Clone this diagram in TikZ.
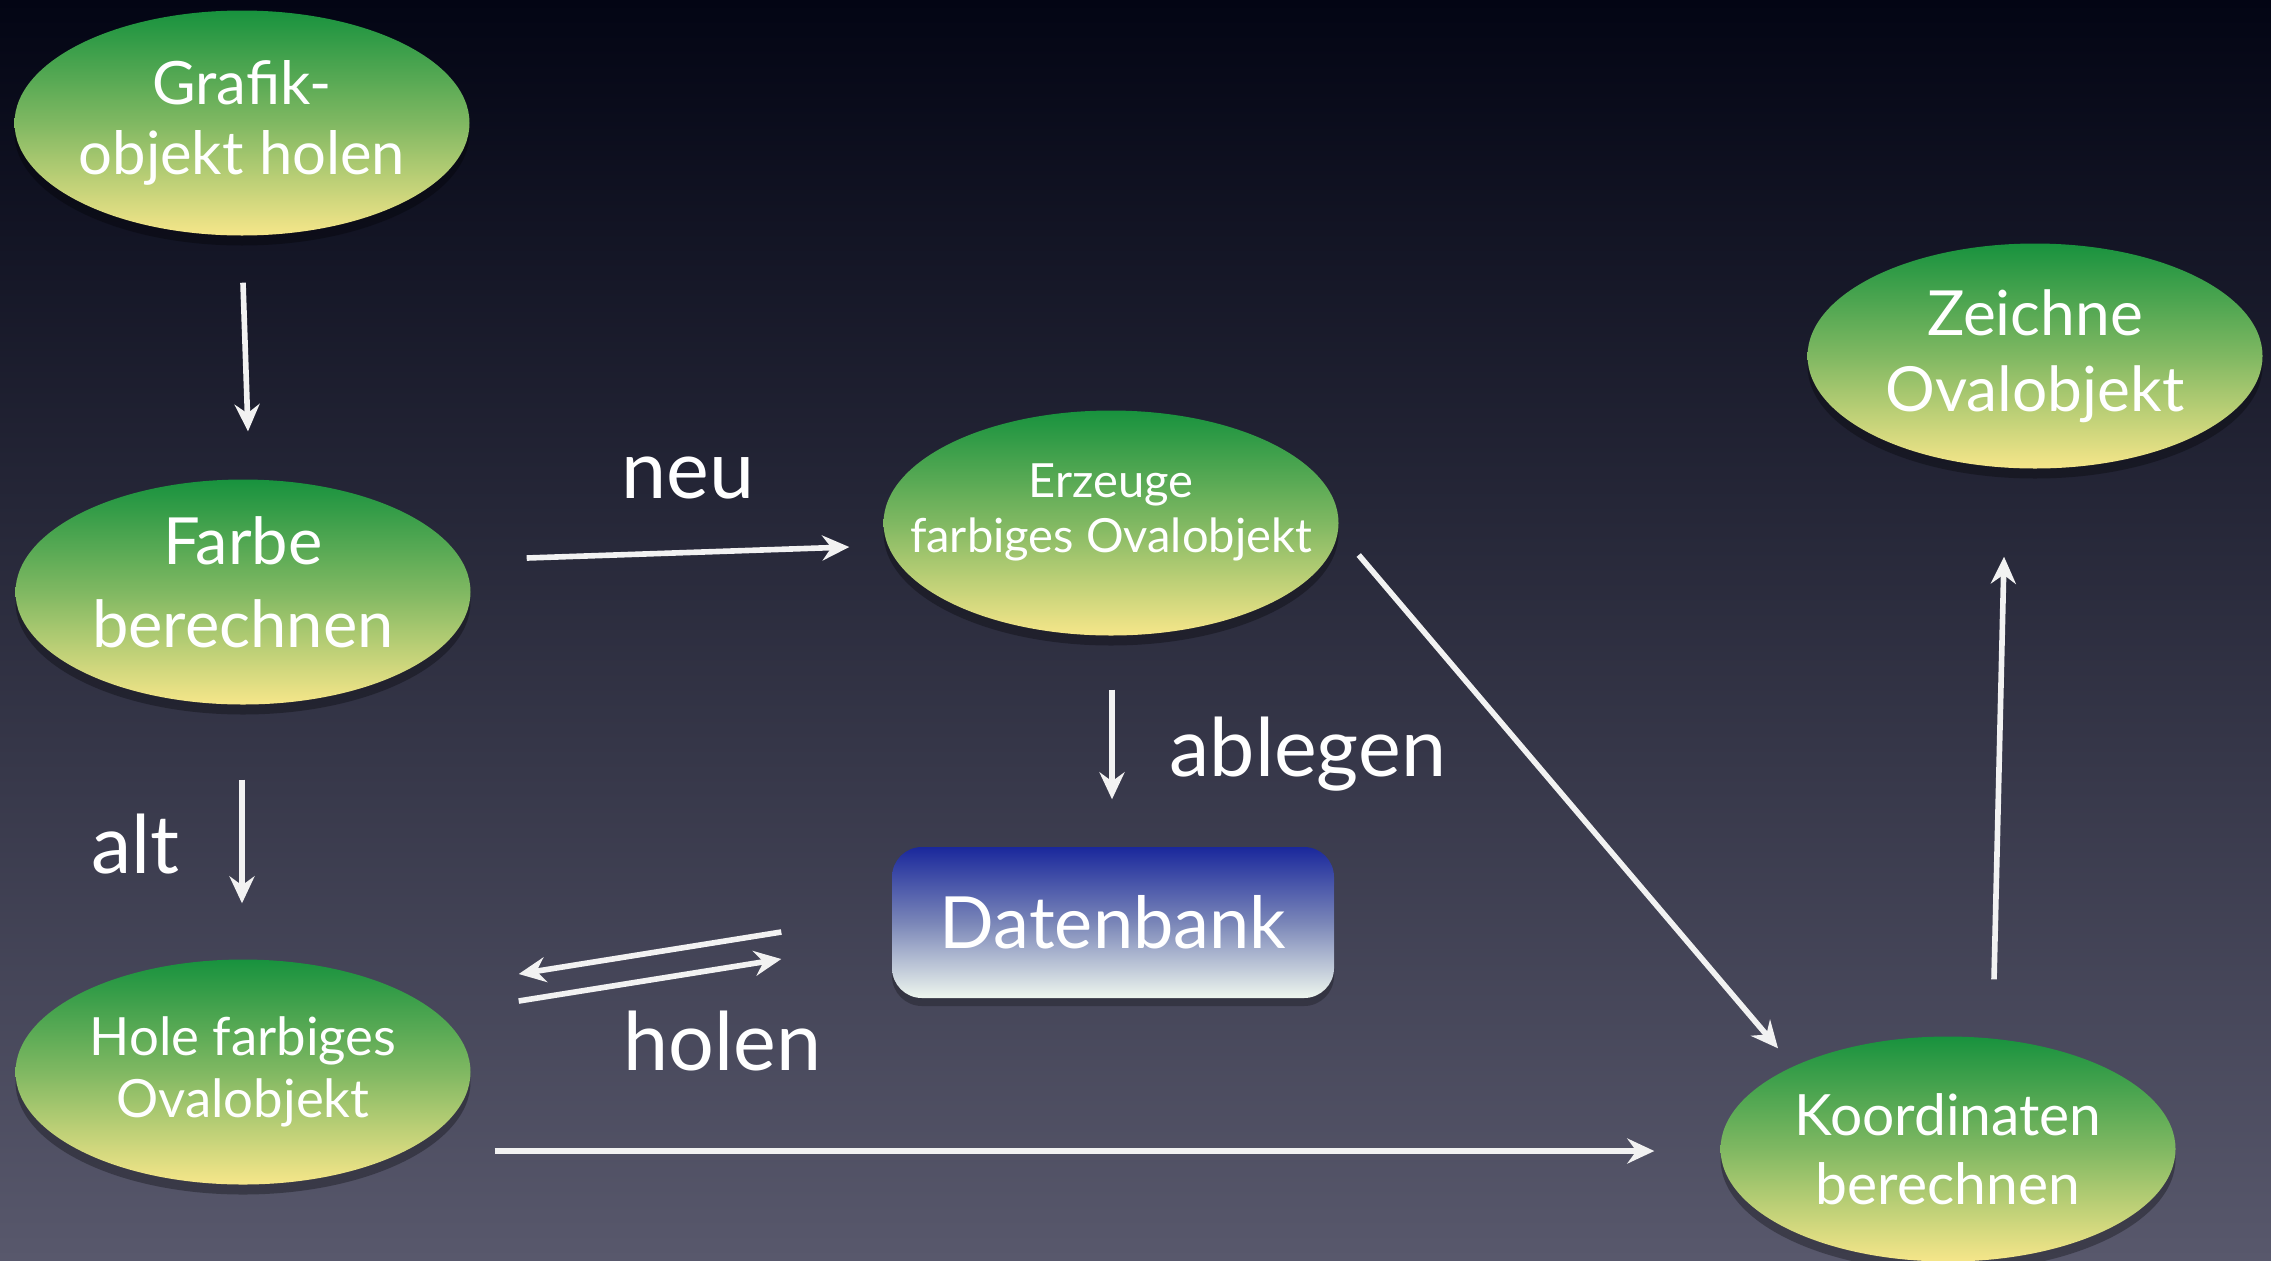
\documentclass[tikz,border=0pt]{standalone}
\usepackage{fontspec}
\setmainfont{Lato}
\usetikzlibrary{shapes.geometric,arrows.meta,calc,shadows}
\definecolor{bgtop}{RGB}{3,5,20}
\definecolor{bgbot}{RGB}{88,88,108}
\definecolor{ovtop}{RGB}{24,146,62}
\definecolor{ovmid}{RGB}{128,184,98}
\definecolor{ovbot}{RGB}{246,230,138}
\definecolor{dbtop}{RGB}{26,40,156}
\definecolor{dbmid}{RGB}{122,134,184}
\definecolor{dbbot}{RGB}{238,246,238}
\definecolor{arrcol}{RGB}{242,242,242}
\tikzset{
  oval/.style={ellipse, minimum width=45.5mm, minimum height=22.5mm, inner xsep=-20mm, inner ysep=-8mm,
    top color=ovtop, bottom color=ovbot, middle color=ovmid, text=white, align=center,
    drop shadow={shadow xshift=0mm, shadow yshift=-1mm, opacity=0.3, fill=black}},
  dbbox/.style={rectangle, rounded corners=3mm, minimum width=44.2mm, minimum height=15.1mm,
    inner sep=0pt, top color=dbtop, bottom color=dbbot, middle color=dbmid, text=white,
    drop shadow={shadow xshift=0mm, shadow yshift=-0.8mm, opacity=0.25, fill=black}},
  arr/.style={draw=arrcol, line width=1.6pt, -{Stealth[length=2.7mm, width=2.5mm, inset=0.9mm]}},
  lbl/.style={text=white, anchor=base west, inner sep=0pt, font=\fontsize{23}{27}\selectfont}
}
\begin{document}
\begin{tikzpicture}[x=0.1mm,y=-0.1mm]
\useasboundingbox (0,0) rectangle (2271,1260);
\shade[top color=bgtop, bottom color=bgbot] (0,0) rectangle (2271,1260);

\node[oval, font=\fontsize{17}{20}\selectfont] (g) at (242,123) {Grafik-\\objekt holen};
\node[oval, font=\fontsize{18.5}{23.6}\selectfont] (f) at (243,592) {Farbe\\berechnen\rule[-5.7pt]{0pt}{1pt}};
\node[oval, font=\fontsize{15}{17.5}\selectfont] (h) at (243,1072) {Hole farbiges\\Ovalobjekt};
\node[oval, font=\fontsize{13.4}{15.5}\selectfont] (e) at (1111,523) {Erzeuge\\farbiges Ovalobjekt\rule[-8.6pt]{0pt}{1pt}};
\node[oval, font=\fontsize{17.7}{21.5}\selectfont] (z) at (2035,356) {Zeichne\\Ovalobjekt};
\node[oval, font=\fontsize{16.2}{19.5}\selectfont] (k) at (1948,1149) {Koordinaten\\berechnen};
\node[dbbox, font=\fontsize{20.5}{24}\selectfont] (d) at (1113,922.5) {Datenbank};

\draw[arr] ($(g.south)+(1,46.5)$) -- ($(f.north)+(5,-47.5)$);
\draw[arr] ($(f.east)+(55.5,-34)$) -- ($(e.west)+(-33.5,24)$);
\draw[arr] ($(e.south)+(1,53.5)$) -- ($(d.north)+(-1,-47)$);
\draw[arr] ($(f.south)+(-1,74.5)$) -- ($(h.north)+(-1,-55.5)$);
\draw[arr] ($(d.west)+(-110,9.5)$) -- ($(h.east)+(47.5,-98)$);
\draw[arr] ($(h.east)+(47.5,-71)$) -- ($(d.west)+(-110,36.5)$);
\draw[arr] ($(h.east)+(23.5,79)$) -- ($(k.west)+(-65.5,2)$);
\draw[arr] ($(e.east)+(19.5,32)$) -- ($(k.north)+(-170,12.5)$);
\draw[arr] ($(k.north)+(46,-56.5)$) -- ($(z.south)+(-31,87.5)$);

\node[lbl] (lneu) at (621,498) {neu};
\node[lbl] (lab) at (1169,776) {ablegen};
\node[lbl] (lalt) at (91,873) {alt};
\node[lbl] (lhol) at (623,1070) {holen};
\end{tikzpicture}
\end{document}
